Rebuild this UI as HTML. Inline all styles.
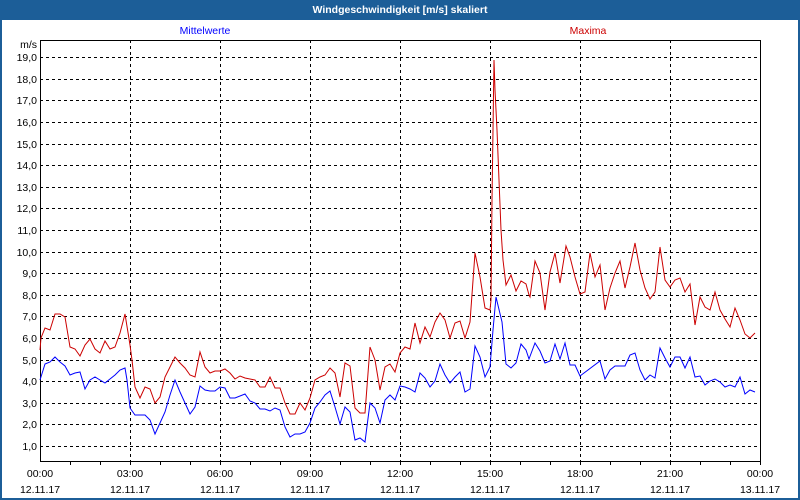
<!DOCTYPE html>
<html><head><meta charset="utf-8"><style>
body{margin:0;width:800px;height:500px;overflow:hidden;background:#fff}
svg{display:block}
text{font-family:"Liberation Sans",sans-serif;font-size:10.5px}
</style></head><body>
<svg width="800" height="500" viewBox="0 0 800 500" xmlns="http://www.w3.org/2000/svg">
<rect x="0" y="0" width="800" height="500" fill="#1c5e98"/>
<rect x="2" y="20" width="796" height="478" fill="#fff"/>
<text x="400" y="13" fill="#fff" font-weight="bold" text-anchor="middle">Windgeschwindigkeit [m/s] skaliert</text>
<text x="205" y="34" fill="#0000ff" text-anchor="middle">Mittelwerte</text>
<text x="588" y="34" fill="#cc0000" text-anchor="middle">Maxima</text>
<text x="37" y="48" fill="#000" text-anchor="end">m/s</text>
<g stroke="#000" stroke-width="1" stroke-dasharray="3,3" fill="none">
<path d="M40 57.5H760M40 79.5H760M40 100.5H760M40 122.5H760M40 144.5H760M40 165.5H760M40 187.5H760M40 208.5H760M40 230.5H760M40 252.5H760M40 273.5H760M40 295.5H760M40 316.5H760M40 338.5H760M40 360.5H760M40 381.5H760M40 403.5H760M40 424.5H760M40 446.5H760"/>
<path d="M130.5 40V461M220.5 40V461M310.5 40V461M400.5 40V461M490.5 40V461M580.5 40V461M670.5 40V461"/>
</g>
<rect x="40.5" y="40.5" width="720" height="421" fill="none" stroke="#000"/>
<g stroke="#000"><path d="M70.5 461v4M100.5 461v4M130.5 461v4M160.5 461v4M190.5 461v4M220.5 461v4M250.5 461v4M280.5 461v4M310.5 461v4M340.5 461v4M370.5 461v4M400.5 461v4M430.5 461v4M460.5 461v4M490.5 461v4M520.5 461v4M550.5 461v4M580.5 461v4M610.5 461v4M640.5 461v4M670.5 461v4M700.5 461v4M730.5 461v4M760.5 461v4"/></g>
<g fill="#000" text-anchor="end">
<text x="37" y="61">19,0</text><text x="37" y="83">18,0</text><text x="37" y="104">17,0</text><text x="37" y="126">16,0</text><text x="37" y="148">15,0</text><text x="37" y="169">14,0</text><text x="37" y="191">13,0</text><text x="37" y="212">12,0</text><text x="37" y="234">11,0</text><text x="37" y="256">10,0</text><text x="37" y="277">9,0</text><text x="37" y="299">8,0</text><text x="37" y="320">7,0</text><text x="37" y="342">6,0</text><text x="37" y="364">5,0</text><text x="37" y="385">4,0</text><text x="37" y="407">3,0</text><text x="37" y="428">2,0</text><text x="37" y="450">1,0</text>
</g>
<g fill="#000" text-anchor="middle">
<text x="40" y="477">00:00</text><text x="130" y="477">03:00</text><text x="220" y="477">06:00</text><text x="310" y="477">09:00</text><text x="400" y="477">12:00</text><text x="490" y="477">15:00</text><text x="580" y="477">18:00</text><text x="670" y="477">21:00</text><text x="760" y="477">00:00</text>
<text x="40" y="493">12.11.17</text><text x="130" y="493">12.11.17</text><text x="220" y="493">12.11.17</text><text x="310" y="493">12.11.17</text><text x="400" y="493">12.11.17</text><text x="490" y="493">12.11.17</text><text x="580" y="493">12.11.17</text><text x="670" y="493">12.11.17</text><text x="760" y="493">13.11.17</text>
</g>
<polyline fill="none" stroke="#cc0000" stroke-width="1" points="40,350 41,338 45,328 50,330 55,314 60,314 65,317 70,347 75,349 80,356 85,345 90,339 95,349 100,353 105,341 110,349 115,347 120,333 125,314 130,345 132,360 135,387 140,398 145,387 150,389 155,403 160,397 165,377 170,367 175,357 180,363 185,368 190,375 195,377 200,352 205,367 210,373 215,371 220,371 225,369 230,373 235,379 240,376 245,378 255,380 260,387 265,387 270,377 275,388 280,388 285,403 290,414 295,414 300,403 305,410 310,398 315,380 320,377 325,375 330,368 335,373 340,397 345,363 350,366 355,408 360,413 365,413 370,347 375,360 380,390 385,367 390,364 395,372 400,353 405,347 410,349 415,323 420,343 425,327 430,337 435,322 440,313 445,320 450,338 455,323 460,321 465,338 470,322 475,253 480,277 485,308 490,310 491,300 492,200 494,60 495,90 497,130 499,180 501,230 503,260 506,285 511,275 516,291 521,281 526,284 529,295 530,297 535,261 540,273 545,310 550,272 555,253 560,283 566,246 570,257 575,277 580,294 585,292 590,253 595,277 600,265 605,310 610,288 615,273 620,261 625,288 630,267 635,243 640,270 645,288 650,299 655,292 660,247 665,280 670,287 675,280 680,278 685,292 690,284 695,325 700,297 705,307 710,310 715,292 720,310 725,319 730,327 735,308 740,320 745,334 750,338 755,333"/>
<polyline fill="none" stroke="#0000ff" stroke-width="1" points="40,380 45,364 50,362 55,357 60,362 65,366 70,375 75,373 80,372 85,389 90,380 95,377 100,380 105,383 110,379 115,375 120,370 125,368 127,380 130,408 135,415 145,415 150,420 155,434 160,423 165,412 170,395 175,380 180,392 185,403 190,414 195,407 200,386 205,390 210,391 215,391 220,387 225,388 230,398 235,398 245,394 250,401 255,403 260,409 265,409 270,411 275,408 280,410 285,427 290,437 295,434 300,434 305,432 310,423 315,408 320,402 325,395 330,391 335,407 340,424 345,407 350,412 355,440 360,438 365,442 370,403 375,408 380,423 385,400 390,395 395,400 400,386 405,387 410,389 415,392 420,373 425,378 430,387 435,381 440,364 445,375 450,383 455,377 460,372 465,392 470,389 475,346 480,357 485,377 490,367 493,330 496,297 502,322 506,364 511,368 516,363 521,344 526,350 529,359 535,343 540,351 545,363 550,361 555,344 560,359 565,343 570,365 575,365 580,376 600,361 605,379 610,370 615,366 625,366 630,355 635,353 640,370 645,380 650,375 655,378 660,348 665,358 670,367 675,357 680,357 685,368 690,357 695,377 700,376 705,385 710,381 715,379 720,382 725,387 730,385 735,387 740,377 745,394 750,390 755,392"/>
</svg>
</body></html>
